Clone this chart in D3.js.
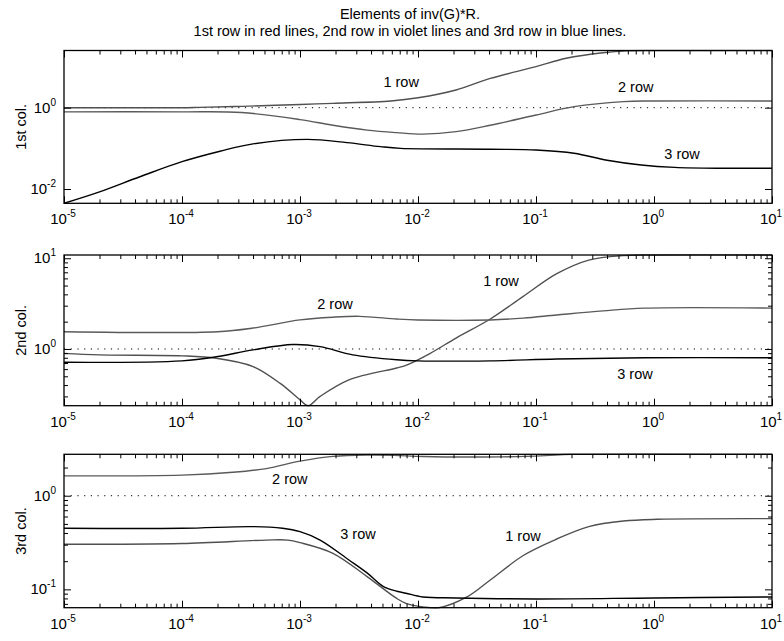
<!DOCTYPE html>
<html><head><meta charset="utf-8">
<script src="https://cdn.jsdelivr.net/npm/d3@7"></script>
<style>
body{margin:0;background:#fff}
svg{display:block}
text{font-family:"Liberation Sans",Arial,Helvetica,sans-serif;fill:#000}
</style>
</head><body>
<svg id="chart" width="784" height="641"></svg>
<script>
// ---------- data ----------
const titleLines = ["Elements of inv(G)*R.",
  "1st row in red lines, 2nd row in violet lines and 3rd row in blue lines."];
const xTickValues = [1e-5, 1e-4, 1e-3, 1e-2, 1e-1, 1e0, 1e1];
const xTickExponents = ["-5", "-4", "-3", "-2", "-1", "0", "1"];
const panelNames = ["1st col.", "2nd col.", "3rd col."];
const rowNames = ["1 row", "2 row", "3 row"];

// column 1: [frequency, magnitude]
const col1Row1 = [[1e-5,1.0],[1e-4,1.0],[1.4e-4,1.02],[3.2e-4,1.08],[1e-3,1.2],[1.9e-3,1.28],[5.9e-3,1.46],[1e-2,1.75],[2.1e-2,2.72],[4.1e-2,5.25],[1e-1,10.2],[0.18,16.4],[0.37,22.5],[0.6,25.0],[1,25.5],[10,25.5]];
const col1Row2 = [[1e-5,0.79],[1e-4,0.79],[3.2e-4,0.76],[1e-3,0.51],[1.9e-3,0.37],[3.7e-3,0.28],[6.6e-3,0.243],[1.1e-2,0.224],[2.1e-2,0.257],[4.1e-2,0.37],[1e-1,0.66],[0.21,1.06],[0.55,1.41],[1,1.46],[10,1.46]];
const col1Row3 = [[1e-5,0.00445],[2e-5,0.0085],[4.4e-5,0.020],[1e-4,0.047],[2.1e-4,0.085],[4e-4,0.129],[1.15e-3,0.166],[2.5e-3,0.138],[4.8e-3,0.110],[7.1e-3,0.100],[4.1e-2,0.095],[1e-1,0.091],[0.21,0.076],[0.4,0.051],[0.78,0.039],[1.5,0.034],[3.9,0.0324],[10,0.0324]];

// column 2
const col2Row1 = [[1e-5,0.895],[2e-5,0.86],[1e-4,0.84],[1.95e-4,0.79],[4e-4,0.64],[6.8e-4,0.417],[1e-3,0.275],[1.17e-3,0.237],[1.48e-3,0.30],[2.6e-3,0.457],[6.6e-3,0.617],[7.9e-3,0.66],[1.26e-2,0.89],[2.1e-2,1.32],[4.1e-2,2.14],[7.8e-2,3.8],[0.15,6.76],[0.28,9.55],[0.55,10.7],[1,10.86],[10,10.86]];
const col2Row2 = [[1e-5,1.55],[2e-4,1.55],[4e-4,1.70],[1e-3,2.09],[1.9e-3,2.24],[3.2e-3,2.29],[6.6e-3,2.14],[1e-2,2.09],[4.1e-2,2.09],[7.8e-2,2.19],[0.15,2.37],[0.37,2.63],[0.83,2.82],[10,2.82]];
const col2Row3 = [[1e-5,0.713],[1e-4,0.74],[1.95e-4,0.82],[4e-4,0.977],[8.7e-4,1.12],[1.48e-3,1.06],[2.8e-3,0.86],[6.6e-3,0.76],[1e-2,0.74],[4.1e-2,0.74],[0.15,0.776],[0.83,0.80],[10,0.80]];

// column 3
const col3Row1 = [[1e-5,0.303],[1e-4,0.309],[5.2e-4,0.336],[7.9e-4,0.336],[1e-3,0.316],[1.9e-3,0.243],[3.7e-3,0.137],[6.6e-3,0.080],[7.9e-3,0.071],[1.1e-2,0.065],[1.5e-2,0.0637],[2.6e-2,0.083],[4.1e-2,0.126],[7.8e-2,0.230],[0.15,0.345],[0.28,0.468],[0.55,0.537],[1.07,0.56],[10,0.569]];
const col3Row2 = [[1e-5,1.63],[1e-4,1.66],[2.7e-4,1.78],[5.2e-4,1.95],[1e-3,2.34],[1.9e-3,2.63],[3.7e-3,2.72],[6.3e-3,2.70],[1.1e-2,2.62],[5e-2,2.60],[0.12,2.68],[0.2,2.77],[10,2.77]];
const col3Row3 = [[1e-5,0.449],[1e-4,0.449],[4e-4,0.468],[7.1e-4,0.449],[1e-3,0.413],[1.48e-3,0.336],[2.6e-3,0.206],[3.7e-3,0.150],[5.1e-3,0.107],[6.6e-3,0.0955],[7.9e-3,0.091],[1.1e-2,0.083],[2.1e-2,0.081],[1e-1,0.079],[1,0.081],[10,0.083]];

const yDomains = [[0.00445, 25.5], [0.237, 10.86], [0.0637, 2.77]];
const yMajorTicks = [[1e-2, 1], [1, 10], [0.1, 1]];
const yMajorExponents = [["-2", "0"], ["0", "1"], ["-1", "0"]];
// annotation anchors in data units [frequency, magnitude]
const col1LabelAt = [[7.2e-3, 4.3], [0.70, 3.14], [1.73, 0.0726]];
const col2LabelAt = [[0.0505, 5.62], [1.98e-3, 3.13], [0.69, 0.53]];
const col3LabelAt = [[0.0776, 0.371], [8.2e-4, 1.51], [3.1e-3, 0.39]];

// ---------- layout ----------
const svg = d3.select("#chart");
const X0 = 64, X1 = 772;
const panels = [
  {top: 50.5, bottom: 203.3, rows: [col1Row1, col1Row2, col1Row3], labels: col1LabelAt, minorY: false},
  {top: 255,  bottom: 405.7, rows: [col2Row1, col2Row2, col2Row3], labels: col2LabelAt, minorY: true},
  {top: 454.3, bottom: 607.7, rows: [col3Row1, col3Row2, col3Row3], labels: col3LabelAt, minorY: true}
];
const rowColors = ["#505050", "#5a5a5a", "#000000"];
const FS = 14.5;

svg.append("g").selectAll("text").data(titleLines).join("text")
  .attr("x", 410).attr("y", (d, i) => 19 + i * 16.5)
  .attr("text-anchor", "middle").attr("font-size", 14.5).text(d => d);

const x = d3.scaleLog().domain([1e-5, 10]).range([X0, X1]);
const allX = x.ticks();
const xMinor = allX.filter(v => !xTickValues.some(t => Math.abs(t - v) / t < 1e-9));

panels.forEach((p, pi) => {
  const y = d3.scaleLog().domain(yDomains[pi]).range([p.bottom, p.top]);
  const g = svg.append("g");
  const clipId = "clip" + pi;
  g.append("clipPath").attr("id", clipId).append("rect")
    .attr("x", X0).attr("y", p.top - 1).attr("width", X1 - X0).attr("height", p.bottom - p.top + 2);

  // reference dotted line at 1
  g.append("line").attr("x1", X0).attr("x2", X1).attr("y1", y(1)).attr("y2", y(1))
    .attr("stroke", "#000").attr("stroke-width", 1).attr("stroke-dasharray", "1.2,5.5");

  // data lines
  const line = d3.line().x(d => x(d[0])).y(d => y(d[1])).curve(d3.curveCatmullRom.alpha(0.5));
  p.rows.forEach((r, ri) => {
    g.append("path").datum(r).attr("d", line).attr("fill", "none")
      .attr("stroke", rowColors[ri]).attr("stroke-width", 1.4)
      .attr("clip-path", `url(#${clipId})`);
  });

  // axes (inward ticks, all four sides)
  const hideDomain = s => s.call(a => a.select(".domain").remove()).call(a => a.selectAll("text").remove());
  g.append("g").attr("transform", `translate(0,${p.bottom})`)
    .call(d3.axisBottom(x).tickValues(xTickValues).tickSize(-7).tickFormat("")).call(hideDomain);
  g.append("g").attr("transform", `translate(0,${p.bottom})`)
    .call(d3.axisBottom(x).tickValues(xMinor).tickSize(-4).tickFormat("")).call(hideDomain);
  g.append("g").attr("transform", `translate(0,${p.top})`)
    .call(d3.axisTop(x).tickValues(xTickValues).tickSize(-7).tickFormat("")).call(hideDomain);
  g.append("g").attr("transform", `translate(0,${p.top})`)
    .call(d3.axisTop(x).tickValues(xMinor).tickSize(-4).tickFormat("")).call(hideDomain);

  const yMaj = yMajorTicks[pi];
  g.append("g").attr("transform", `translate(${X0},0)`)
    .call(d3.axisLeft(y).tickValues(yMaj).tickSize(-7).tickFormat("")).call(hideDomain);
  g.append("g").attr("transform", `translate(${X1},0)`)
    .call(d3.axisRight(y).tickValues(yMaj).tickSize(-7).tickFormat("")).call(hideDomain);
  if (p.minorY) {
    const yMin = y.ticks().filter(v => !yMaj.some(t => Math.abs(t - v) / t < 1e-9));
    g.append("g").attr("transform", `translate(${X0},0)`)
      .call(d3.axisLeft(y).tickValues(yMin).tickSize(-4).tickFormat("")).call(hideDomain);
    g.append("g").attr("transform", `translate(${X1},0)`)
      .call(d3.axisRight(y).tickValues(yMin).tickSize(-4).tickFormat("")).call(hideDomain);
  }
  g.selectAll(".tick line").attr("stroke", "#000").attr("stroke-width", 1);

  // frame
  g.append("rect").attr("x", X0).attr("y", p.top).attr("width", X1 - X0).attr("height", p.bottom - p.top)
    .attr("fill", "none").attr("stroke", "#000").attr("stroke-width", 1.3);

  // x tick labels
  xTickValues.forEach((v, i) => {
    const t = g.append("text").attr("x", x(v) - 1).attr("y", p.bottom + 21)
      .attr("text-anchor", "middle").attr("font-size", 15);
    t.append("tspan").text("10");
    t.append("tspan").attr("dy", -7).attr("font-size", 10).text(xTickExponents[i]);
  });
  // y tick labels
  yMaj.forEach((v, i) => {
    const t = g.append("text").attr("x", 56).attr("y", y(v) + 5)
      .attr("text-anchor", "end").attr("font-size", 15);
    t.append("tspan").text("10");
    t.append("tspan").attr("dy", -7).attr("font-size", 10).text(yMajorExponents[pi][i]);
  });
  // y label
  g.append("text").attr("transform", `translate(26,${(p.top + p.bottom) / 2}) rotate(-90)`)
    .attr("text-anchor", "middle").attr("font-size", FS).text(panelNames[pi]);
  // row annotations
  p.labels.forEach((a, ri) => {
    g.append("text").attr("x", x(a[0])).attr("y", y(a[1]))
      .attr("text-anchor", "middle").attr("dominant-baseline", "central")
      .attr("font-size", FS).text(rowNames[ri]);
  });
});
</script>
</body></html>
